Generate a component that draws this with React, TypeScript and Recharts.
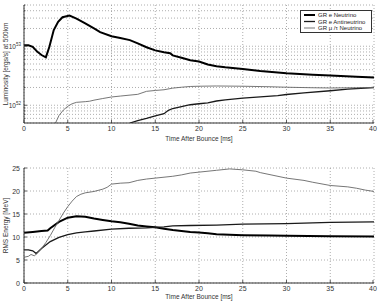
import React from 'react';
import { LineChart, Line, XAxis, YAxis, CartesianGrid } from 'recharts';

const FONT = '"Liberation Sans", Arial, Helvetica, sans-serif';

// Tick labels
const timeTicks = [0, 5, 10, 15, 20, 25, 30, 35, 40];
const lumTicks = [
  6e51, 7e51, 8e51, 9e51,
  1e52, 2e52, 3e52, 4e52, 5e52, 6e52, 7e52, 8e52, 9e52,
  1e53, 2e53, 3e53, 4e53, 5e53,
];
const lumMajorTicks = [1e52, 1e53];
const energyTicks = [0, 5, 10, 15, 20, 25];

// Series names
const seriesNames = ['GR e Neutrino', 'GR e Antineutrino', 'GR \u03bc /\u03c4 Neutrino'];

// Luminosity vs time after bounce (ms)
// e neutrino: units of 1e52 ergs/s
const lumNuETime = [0, 0.5, 1, 1.5, 2, 2.5, 2.9, 3.4, 3.9, 4.4, 5.2, 6, 7, 8, 8.7, 10, 11, 12.1, 13, 14, 15, 16, 16.7, 17, 18, 19, 20, 21, 22, 23, 25, 27, 30, 33, 35, 38, 40];
const lumNuE_e52 = [10.4, 10.4, 9.8, 8.1, 7.1, 6.5, 9.8, 18.8, 26, 31, 33, 29.4, 24.4, 20, 17.3, 14.8, 13.8, 12.7, 11.2, 9.6, 8.5, 7.9, 7.6, 7.0, 6.4, 5.8, 5.5, 4.9, 4.6, 4.4, 4.1, 3.8, 3.5, 3.3, 3.2, 3.05, 2.95];

// e antineutrino: units of 1e51 ergs/s
const lumAntiTime = [12.1, 13, 14, 15, 16, 16.5, 17, 18, 19, 20, 21, 22, 23, 25, 27, 29, 30, 32, 35, 37, 40];
const lumAnti_e51 = [5.0, 5.5, 6.0, 6.6, 7.2, 8.2, 8.8, 9.5, 10.2, 10.6, 11.0, 11.8, 12.3, 13.2, 13.9, 14.6, 15.2, 16.2, 17.6, 18.8, 20.0];

// mu/tau neutrino: units of 1e51 ergs/s
const lumMuTime = [3.6, 4, 4.5, 5, 5.5, 6, 7, 7.5, 8, 9, 10, 11, 12, 13, 14, 15, 16, 17, 18, 19, 20, 22, 25, 28, 30, 33, 35, 38, 40];
const lumMu_e51 = [5.0, 6.7, 8.3, 9.6, 10.6, 11.2, 11.5, 11.7, 12.2, 13.0, 13.8, 14.3, 14.8, 15.3, 17.2, 17.8, 18.3, 19.5, 20.2, 20.8, 21.0, 21.2, 21.0, 20.6, 20.2, 19.8, 19.6, 19.8, 20.0];

// RMS energy (MeV) vs time after bounce (ms)
const eNuETime = [0, 1, 2, 2.7, 3, 4, 5, 6, 7, 8, 9, 10, 11, 12, 13, 14, 15, 16, 17, 18, 19, 20, 21, 22, 25, 28, 30, 35, 40];
const eNuE = [10.9, 11.1, 11.3, 11.4, 11.9, 13.3, 14.2, 14.5, 14.4, 14.0, 13.7, 13.4, 13.2, 12.9, 12.5, 12.3, 12.1, 11.8, 11.5, 11.3, 11.1, 11.0, 10.8, 10.6, 10.4, 10.3, 10.25, 10.15, 10.1];

const eAntiTime = [0, 0.5, 1, 1.4, 2, 3, 4, 5, 6, 7, 8, 10, 12, 14, 15, 16, 17, 19, 22, 25, 30, 35, 40];
const eAnti = [7.2, 7.2, 7.0, 6.4, 7.5, 9.0, 9.9, 10.5, 10.9, 11.1, 11.3, 11.7, 11.9, 12.0, 12.1, 12.2, 12.4, 12.5, 12.6, 12.8, 12.9, 13.2, 13.3];

const eMuTime = [0, 0.5, 0.8, 1.2, 1.5, 2, 2.5, 3, 3.5, 4, 4.5, 5, 5.5, 6, 6.5, 7, 8, 9, 9.5, 10, 11, 12, 13, 14, 15, 16, 17, 18, 19, 20, 22, 23.5, 25, 26.5, 27, 28, 30, 32, 33, 35, 37, 38, 39, 40];
const eMu = [5.6, 5.8, 6.2, 5.9, 6.5, 7.5, 8.8, 10.3, 12, 13.6, 15.2, 16.6, 17.8, 18.8, 19.3, 19.6, 19.9, 20.4, 20.8, 21.5, 21.7, 21.8, 22.3, 22.6, 22.8, 23.0, 23.2, 23.5, 23.9, 24.1, 24.5, 24.8, 24.6, 24.3, 24.0, 23.6, 22.8, 22.3, 21.9, 21.2, 20.9, 20.6, 20.2, 19.9];

const zip = (ts: number[], vs: number[], scale = 1) => ts.map((t, i) => ({ t, v: vs[i] * scale }));

const lumData = [zip(lumNuETime, lumNuE_e52, 1e52), zip(lumAntiTime, lumAnti_e51, 1e51), zip(lumMuTime, lumMu_e51, 1e51)];
const energyData = [zip(eNuETime, eNuE), zip(eAntiTime, eAnti), zip(eMuTime, eMu)];

const lineStyles = [
  { stroke: '#000000', strokeWidth: 2 },
  { stroke: '#1a1a1a', strokeWidth: 1.3 },
  { stroke: '#666666', strokeWidth: 0.9 },
];

const AXIS = '#333';
const GRID = '#999';

const XTick = (props: any) => {
  const { x, y, payload } = props;
  return (
    <g>
      <line x1={x} x2={x} y1={y} y2={y - 3} stroke={AXIS} strokeWidth={0.8} />
      <text x={x} y={y + 8} textAnchor="middle" fontSize={7} fill={AXIS} fontFamily={FONT}>
        {payload.value}
      </text>
    </g>
  );
};

const LogTick = (props: any) => {
  const { x, y, payload } = props;
  const v = payload.value;
  const major = lumMajorTicks.some((m) => Math.abs(m - v) / m < 1e-6);
  const exp = Math.round(Math.log10(v));
  return (
    <g>
      <line x1={x} x2={x + (major ? 3 : 1.5)} y1={y} y2={y} stroke={AXIS} strokeWidth={0.8} />
      {major && (
        <text x={x - 3} y={y + 2.5} textAnchor="end" fontSize={6.5} fill={AXIS} fontFamily={FONT}>
          <tspan>10</tspan>
          <tspan dy={-3} fontSize={4.5}>{exp}</tspan>
        </text>
      )}
    </g>
  );
};

const LinTick = (props: any) => {
  const { x, y, payload } = props;
  return (
    <g>
      <line x1={x} x2={x + 3} y1={y} y2={y} stroke={AXIS} strokeWidth={0.8} />
      <text x={x - 4} y={y + 2.5} textAnchor="end" fontSize={7} fill={AXIS} fontFamily={FONT}>
        {payload.value}
      </text>
    </g>
  );
};

const Legend = () => (
  <div style={{ position: 'absolute', left: 300, top: 10, width: 72, height: 23, background: '#fff', border: '1px solid #333', boxSizing: 'border-box' }}>
    <svg width={70} height={21} style={{ display: 'block' }}>
      {seriesNames.map((n, i) => {
        const cy = 4 + i * 6.5;
        return (
          <g key={n}>
            <line x1={3} x2={14} y1={cy} y2={cy} stroke={lineStyles[i].stroke} strokeWidth={lineStyles[i].strokeWidth} />
            <text x={17} y={cy + 2.2} fontSize={6} fill="#222" fontFamily={FONT}>{n}</text>
          </g>
        );
      })}
    </svg>
  </div>
);

export default function App() {
  return (
    <div style={{ position: 'absolute', left: 0, top: 0, width: 381, height: 302, background: '#fff', fontFamily: FONT }}>
      <div style={{ position: 'absolute', left: 0, top: 0 }}>
        <LineChart width={381} height={150} margin={{ top: 5, right: 7, bottom: 7, left: 4 }}>
          <CartesianGrid stroke={GRID} strokeDasharray="1 2" strokeWidth={0.8} />
          <XAxis
            type="number"
            dataKey="t"
            domain={[0, 40]}
            ticks={timeTicks}
            height={20}
            tickSize={0}
            tickMargin={0}
            tick={(p: any) => <XTick {...p} />}
            stroke={AXIS}
            allowDataOverflow
            label={{ value: 'Time After Bounce [ms]', position: 'insideBottom', offset: 2, fontSize: 6.5, fill: AXIS, fontFamily: FONT }}
          />
          <YAxis
            scale="log"
            domain={[5e51, 5e53]}
            ticks={lumTicks}
            width={20}
            tickSize={0}
            tickMargin={0}
            tick={(p: any) => <LogTick {...p} />}
            stroke={AXIS}
            allowDataOverflow
            interval={0}
            label={{ value: 'Luminosity [ergs/s] at 500km', angle: -90, position: 'insideLeft', offset: 2, fontSize: 6.5, fill: AXIS, fontFamily: FONT, style: { textAnchor: 'middle' } }}
          />
          {lumData.map((d, i) => (
            <Line key={i} data={d} dataKey="v" type="linear" dot={false} isAnimationActive={false} stroke={lineStyles[i].stroke} strokeWidth={lineStyles[i].strokeWidth} name={seriesNames[i]} />
          ))}
        </LineChart>
      </div>
      <div style={{ position: 'absolute', left: 0, top: 150 }}>
        <LineChart width={381} height={152} margin={{ top: 18, right: 7, bottom: 3, left: 4 }}>
          <CartesianGrid stroke={GRID} strokeDasharray="1 2" strokeWidth={0.8} />
          <XAxis
            type="number"
            dataKey="t"
            domain={[0, 40]}
            ticks={timeTicks}
            height={16}
            tickSize={0}
            tickMargin={0}
            tick={(p: any) => <XTick {...p} />}
            stroke={AXIS}
            label={{ value: 'Time After Bounce [ms]', position: 'insideBottom', offset: 0, fontSize: 6.5, fill: AXIS, fontFamily: FONT }}
          />
          <YAxis
            domain={[0, 25]}
            ticks={energyTicks}
            width={20}
            tickSize={0}
            tickMargin={0}
            tick={(p: any) => <LinTick {...p} />}
            stroke={AXIS}
            interval={0}
            label={{ value: 'RMS Energy [MeV]', angle: -90, position: 'insideLeft', offset: 2, fontSize: 6.5, fill: AXIS, fontFamily: FONT, style: { textAnchor: 'middle' } }}
          />
          {energyData.map((d, i) => (
            <Line key={i} data={d} dataKey="v" type="linear" dot={false} isAnimationActive={false} stroke={lineStyles[i].stroke} strokeWidth={lineStyles[i].strokeWidth} name={seriesNames[i]} />
          ))}
        </LineChart>
      </div>
      <Legend />
    </div>
  );
}
